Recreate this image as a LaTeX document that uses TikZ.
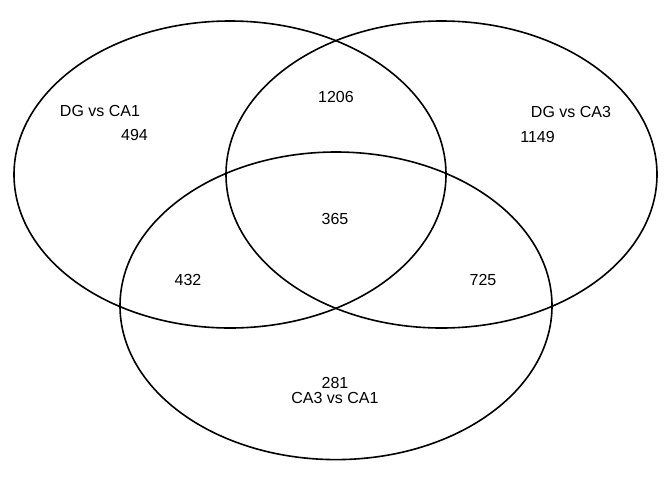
\documentclass[tikz,border=0pt]{standalone}
\usepackage{fontspec}
\setmainfont{Liberation Sans}
\begin{document}
\begin{tikzpicture}[x=1pt,y=-1pt,
  set/.style={draw=black,line width=1.6pt},
  lbl/.style={inner sep=0pt,font=\fontsize{16}{16}\selectfont}]
\useasboundingbox (0,0) rectangle (672,480);
\fill[white] (0,0) rectangle (672,480);
\draw[set] (230,174.5) ellipse [x radius=216, y radius=153.5];
\draw[set] (441.5,174.5) ellipse [x radius=215.5, y radius=153.5];
\draw[set] (336,305.8) ellipse [x radius=216, y radius=153.8];
\node[lbl] (n1) at (100,111) {DG vs CA1};
\node[lbl] (n2) at (571,111.5) {DG vs CA3};
\node[lbl] (n3) at (335,398) {CA3 vs CA1};
\node[lbl] (a) at (134.5,135) {494};
\node[lbl] (b) at (537.5,136.5) {1149};
\node[lbl] (c) at (336,97) {1206};
\node[lbl] (d) at (335,219) {365};
\node[lbl] (e) at (188,280) {432};
\node[lbl] (f) at (483,280) {725};
\node[lbl] (g) at (335,383) {281};
\end{tikzpicture}
\end{document}
